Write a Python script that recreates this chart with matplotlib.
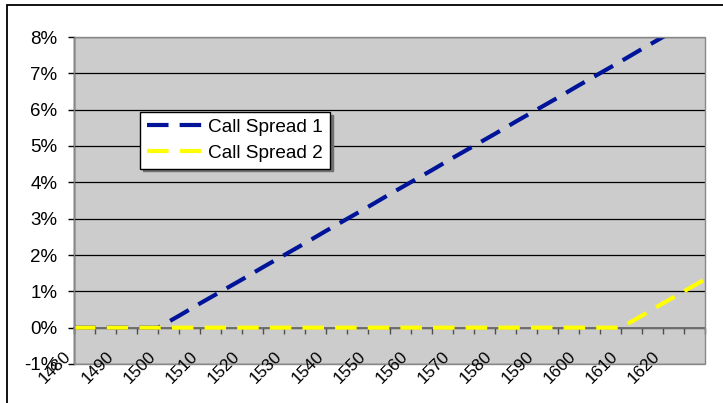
import matplotlib
matplotlib.use('Agg')
import matplotlib.pyplot as plt
from matplotlib.patches import Rectangle
from matplotlib.ticker import FuncFormatter
from matplotlib.transforms import blended_transform_factory, ScaledTranslation

plt.rcParams['font.family'] = ['Liberation Sans', 'DejaVu Sans']
plt.rcParams['lines.scale_dashes'] = False

# ---- data (percent values) ----
prices = [1480, 1485, 1490, 1495, 1500, 1505, 1510, 1515, 1520, 1525, 1530,
          1535, 1540, 1545, 1550, 1555, 1560, 1565, 1570, 1575, 1580, 1585,
          1590, 1595, 1600, 1605, 1610, 1615, 1620, 1625, 1630]
spread1 = [0, 0, 0, 0, 0, 0.33, 0.67, 1.0, 1.33, 1.67, 2.0,
           2.33, 2.67, 3.0, 3.33, 3.67, 4.0, 4.33, 4.67, 5.0, 5.33, 5.67,
           6.0, 6.33, 6.67, 7.0, 7.33, 7.67, 8.0, 8.33, 8.67]
spread2 = [0, 0, 0, 0, 0, 0, 0, 0, 0, 0, 0,
           0, 0, 0, 0, 0, 0, 0, 0, 0, 0, 0,
           0, 0, 0, 0, 0, 0.33, 0.67, 1.0, 1.33]
series_names = ['Call Spread 1', 'Call Spread 2']
xtick_labels = [1480, 1490, 1500, 1510, 1520, 1530, 1540, 1550, 1560, 1570,
                1580, 1590, 1600, 1610, 1620]
yticks = [-1, 0, 1, 2, 3, 4, 5, 6, 7, 8]

W, H = 723, 403
fig = plt.figure(figsize=(W / 100, H / 100), dpi=100)
fig.patch.set_facecolor('white')
ax = fig.add_axes([74 / W, 1 - 364 / H, 631 / W, 327 / H])
ax.set_facecolor('#CCCCCC')

ax.plot(prices, spread1, color='#001499', lw=3.0, dashes=(15.5, 8),
        dash_capstyle='butt', label=series_names[0], zorder=3)
ax.plot(prices, spread2, color='#FFFF00', lw=3.0, dashes=(15.5, 8),
        dash_capstyle='butt', label=series_names[1], zorder=4)

ax.set_xlim(1480, 1630)
ax.set_ylim(-1, 8)

# y axis
ax.set_yticks(yticks)
ax.yaxis.set_major_formatter(FuncFormatter(lambda v, p: f'{int(round(v))}%'))
ax.tick_params(axis='y', direction='out', length=4.3, width=1, color='black',
               pad=7.5, labelsize=13.5)
ax.yaxis.grid(True, color='black', lw=0.9, zorder=1)
ax.set_axisbelow(True)
for s in ['top', 'right']:
    ax.spines[s].set_visible(False)
ax.spines['left'].set_color('black')
ax.spines['left'].set_linewidth(1.0)
ax.spines['left'].set_zorder(5)

# x axis line at 0% with ticks every 5
ax.spines['bottom'].set_position(('data', 0))
ax.spines['bottom'].set_color('#707070')
ax.spines['bottom'].set_linewidth(1.4)
ax.set_xticks(prices)
ax.tick_params(axis='x', direction='out', length=4.3, width=1, color='#505050',
               labelbottom=False)

# category labels at the bottom edge of the plot area (low position)
base = blended_transform_factory(ax.transData, ax.transAxes)
shift = ScaledTranslation(-5 / 100, 10 / 100, fig.dpi_scale_trans)
for v in xtick_labels:
    ax.text(v, 0, str(v), transform=base + shift, rotation=45,
            rotation_mode='anchor', ha='right', va='center', fontsize=12.3,
            clip_on=False, zorder=7)

# plot area border
ax.add_patch(Rectangle((0, 0), 1, 1, transform=ax.transAxes, fill=False,
                       edgecolor='#888888', lw=1.0, zorder=6, clip_on=False))

# legend
leg = ax.legend(loc='upper left', bbox_to_anchor=((140 - 74) / 631, (364 - 112) / 327),
                borderaxespad=0, frameon=True, fancybox=False, edgecolor='black',
                framealpha=1, shadow={'color': '#707070', 'alpha': 1},
                handlelength=2.9, handletextpad=0.35, labelspacing=0.45,
                borderpad=0.35, fontsize=13.7)
leg.get_frame().set_linewidth(1.0)
leg.set_zorder(10)

# outer chart border
fig.add_artist(Rectangle((7 / W, -0.1), 1.2, 1 - 5 / H + 0.1,
                         transform=fig.transFigure, fill=False,
                         edgecolor='black', lw=1.3))

fig.savefig('out.png', dpi=100)
